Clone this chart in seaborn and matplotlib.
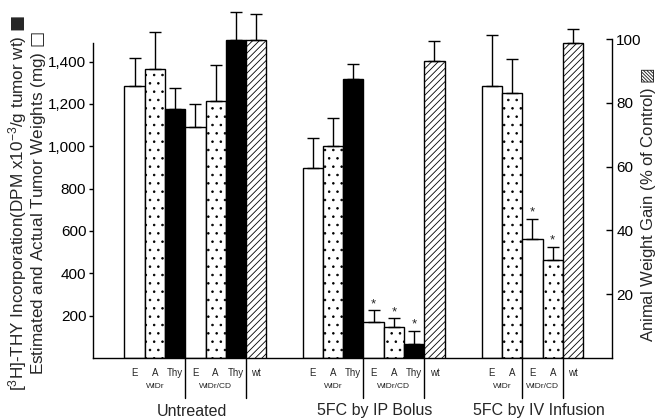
import numpy as np
import pandas as pd
import matplotlib
matplotlib.use("Agg")
import matplotlib.pyplot as plt
import seaborn as sns
from matplotlib.lines import Line2D

# ---------------- data ----------------
groups = ["Untreated", "5FC by IP Bolus", "5FC by IV Infusion"]

untreated_labels = ["E", "A", "Thy", "E", "A", "Thy"]
untreated_sub = ["WiDr", "WiDr", "WiDr", "WiDr/CD", "WiDr/CD", "WiDr/CD"]
untreated_values = [1286, 1365, 1176, 1093, 1215, 1502]
untreated_err = [130, 174, 101, 105, 169, 134]
untreated_star = [False, False, False, False, False, False]

ip_labels = ["E", "A", "Thy", "E", "A", "Thy"]
ip_sub = ["WiDr", "WiDr", "WiDr", "WiDr/CD", "WiDr/CD", "WiDr/CD"]
ip_values = [899, 1003, 1317, 171, 148, 65]
ip_err = [142, 132, 72, 56, 40, 63]
ip_star = [False, False, False, True, True, True]

iv_labels = ["E", "A", "E", "A"]
iv_sub = ["WiDr", "WiDr", "WiDr/CD", "WiDr/CD"]
iv_values = [1285, 1250, 562, 465]
iv_err = [241, 161, 95, 61]
iv_star = [False, False, True, True]

# animal weight gain (% of control), right axis
wt_values = [99.7, 93.1, 98.7]
wt_err = [8.2, 6.4, 4.3]

left_ticks = [200, 400, 600, 800, 1000, 1200, 1400]
right_ticks = [20, 40, 60, 80, 100]

# ---------------- layout ----------------
group_starts = [2.07, 10.85, 19.68]
group_label_shift = [-0.17, 0.08, 0.33]

rows = []
for g, start, labs, subs, vals, errs, stars in zip(
        groups, group_starts,
        [untreated_labels, ip_labels, iv_labels],
        [untreated_sub, ip_sub, iv_sub],
        [untreated_values, ip_values, iv_values],
        [untreated_err, ip_err, iv_err],
        [untreated_star, ip_star, iv_star]):
    for i, (l, s, v, e, st) in enumerate(zip(labs, subs, vals, errs, stars)):
        rows.append(dict(group=g, sub=s, label=l, value=v, err=e, star=st, pos=start + i))
main = pd.DataFrame(rows).sort_values("pos").reset_index(drop=True)

wt = pd.DataFrame(dict(group=groups, value=wt_values, err=wt_err,
                       pos=[start + n for start, n in zip(group_starts, [6, 6, 4])]))

# ---------------- style ----------------
sns.set_theme(style="ticks")
plt.rcParams["font.family"] = ["Liberation Sans", "DejaVu Sans"]
plt.rcParams["mathtext.fontset"] = "custom"
plt.rcParams["mathtext.rm"] = "Liberation Sans"
plt.rcParams["mathtext.it"] = "Liberation Sans:italic"
plt.rcParams["mathtext.sf"] = "DejaVu Sans"
plt.rcParams["hatch.linewidth"] = 0.6
plt.rcParams["hatch.color"] = "black"

W, H = 657, 420
fig = plt.figure(figsize=(W / 100, H / 100), dpi=100)
ax_h_px = 358
ax = fig.add_axes([92.5 / W, (H - 358) / H, (612 - 92.5) / W, ax_h_px / H])
ax2 = ax.twinx()

# left-axis bars
sns.barplot(data=main, x="pos", y="value", native_scale=True, width=1.0,
            color="white", saturation=1, edgecolor="black", linewidth=1.0,
            errorbar=None, ax=ax, zorder=2)
for patch, kind in zip(ax.patches, main["label"]):
    if kind == "Thy":
        patch.set_facecolor("black")
    elif kind == "A":
        patch.set_facecolor("white")
        patch.set_hatch("..")
    else:
        patch.set_facecolor("white")

ax.errorbar(main["pos"], main["value"], yerr=[np.zeros(len(main)), main["err"]],
            fmt="none", ecolor="black", elinewidth=1.0, capsize=4, capthick=1.0, zorder=3)

# right-axis bars (weight gain)
wt_native = np.diff(np.sort(wt["pos"].values)).min()
sns.barplot(data=wt, x="pos", y="value", native_scale=True, width=1.0 / wt_native,
            color="white", saturation=1, edgecolor="black", linewidth=1.0,
            errorbar=None, ax=ax2, zorder=2)
for patch in ax2.patches:
    patch.set_hatch("/////")
ax2.errorbar(wt["pos"], wt["value"], yerr=[np.zeros(len(wt)), wt["err"]],
             fmt="none", ecolor="black", elinewidth=1.0, capsize=4, capthick=1.0, zorder=3)

# stars
for _, r in main[main["star"]].iterrows():
    ax.annotate("*", xy=(r["pos"], r["value"] + r["err"]), xytext=(0, 0),
                textcoords="offset points", ha="center", va="bottom", fontsize=9.5)

# axes limits & spines
ax.set_xlim(0, 25.6)
ax2.set_xlim(0, 25.6)
ax.set_ylim(0, 358 * 4.724)
ax2.set_ylim(0, 358 / 3.19)

for a in (ax, ax2):
    a.set_xlabel("")
    a.set_ylabel("")
    a.set_xticks([])
    a.spines["top"].set_visible(False)
    for s in a.spines.values():
        s.set_linewidth(1.0)
        s.set_color("black")
ax.spines["right"].set_visible(False)
ax.spines["left"].set_bounds(0, 1490)
ax2.spines["left"].set_visible(False)
ax2.spines["bottom"].set_visible(False)
ax2.spines["right"].set_bounds(0, 100)

ax.set_yticks(left_ticks)
ax.set_yticklabels([f"{v:,}" for v in left_ticks])
ax.tick_params(axis="y", direction="out", length=3, width=1.0, labelsize=11, pad=1.5, colors="black")
ax2.set_yticks(right_ticks)
ax2.set_yticklabels([str(v) for v in right_ticks])
ax2.tick_params(axis="y", direction="in", length=4, width=1.0, labelsize=11, pad=3, colors="black")

# bottom labels
xt = ax.get_xaxis_transform()
def px2pt(px):
    return px * 0.72

for _, r in main.iterrows():
    ax.annotate(r["label"], xy=(r["pos"], 0), xycoords=xt, xytext=(0, -px2pt(15)),
                textcoords="offset points", ha="center", va="center", fontsize=7)
for _, r in wt.iterrows():
    ax.annotate("wt", xy=(r["pos"], 0), xycoords=xt, xytext=(0, -px2pt(15)),
                textcoords="offset points", ha="center", va="center", fontsize=7)

for g, shift in zip(groups, group_label_shift):
    gd = main[main["group"] == g]
    for s in ["WiDr", "WiDr/CD"]:
        sd = gd[gd["sub"] == s]
        ax.annotate(s, xy=(sd["pos"].mean(), 0), xycoords=xt, xytext=(0, -px2pt(28)),
                    textcoords="offset points", ha="center", va="center", fontsize=6)
        right_edge = sd["pos"].max() + 0.5
        ax.add_line(Line2D([right_edge, right_edge], [0, -40 / ax_h_px], transform=xt,
                           color="black", lw=1.0, clip_on=False))
    gpos = list(gd["pos"]) + list(wt[wt["group"] == g]["pos"])
    ax.annotate(g, xy=((min(gpos) + max(gpos)) / 2 + shift, 0), xycoords=xt, xytext=(0, -px2pt(53)),
                textcoords="offset points", ha="center", va="center", fontsize=11.5)

# axis titles
fig.text(27 / W, 1 - 203 / H,
         "[$^{3}$H]-THY Incorporation(DPM x10$^{-3}$/g tumor wt) $\\mathsf{\u25A0}$\n"
         "Estimated and Actual Tumor Weights (mg) $\\mathsf{\u25A1}$",
         rotation=90, ha="center", va="center", multialignment="center",
         linespacing=0.95, fontsize=12.3)
fig.text(648 / W, 1 - 205 / H, "Animal Weight Gain (% of Control) $\\mathsf{\u25A8}$",
         rotation=90, ha="center", va="center", fontsize=12)

fig.savefig("out.png", dpi=100)
